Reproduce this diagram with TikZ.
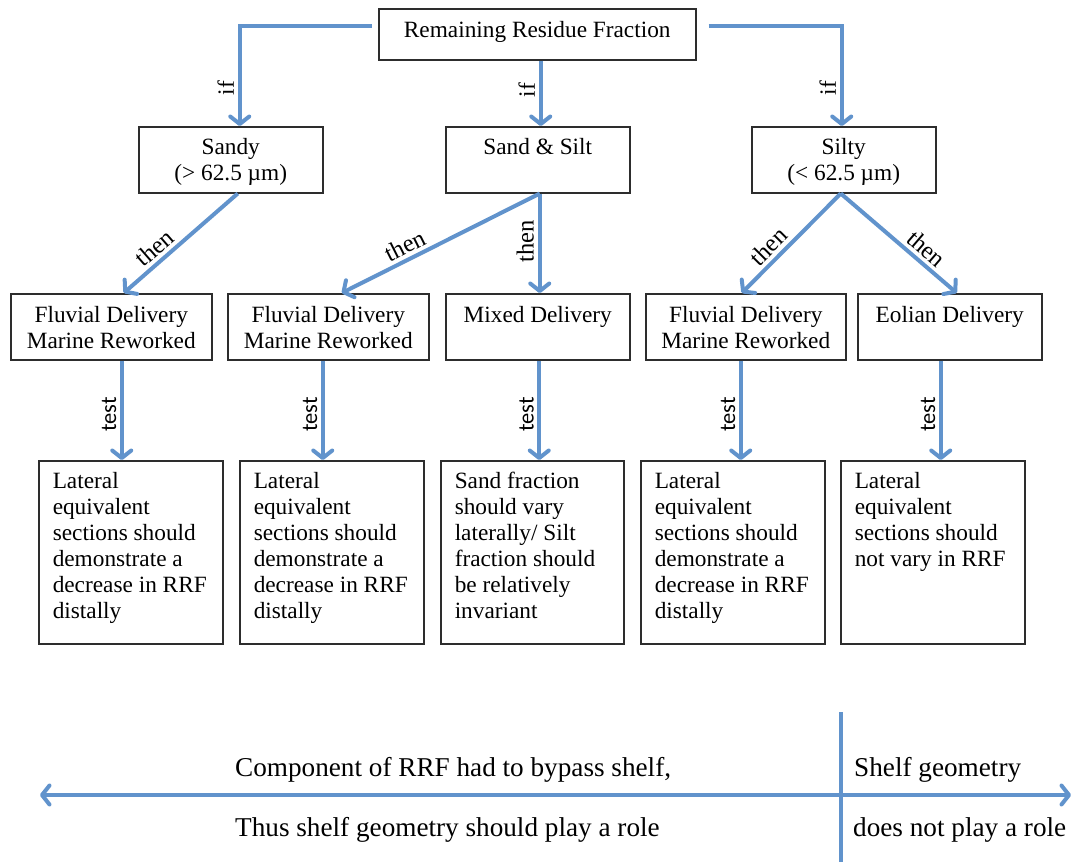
\documentclass[tikz,border=0pt]{standalone}
\usepackage{fontspec}
\setmainfont{Liberation Serif}
\newfontfamily\labelsans{Carlito}
\usetikzlibrary{arrows.meta}

\definecolor{flowblue}{RGB}{97,147,204}
\definecolor{boxline}{RGB}{45,45,45}

\newcommand\boxfont{\fontsize{23.3pt}{26pt}\selectfont}
\newcommand\thenfont{\fontsize{24.5pt}{26pt}\selectfont}
\newcommand\testfont{\labelsans\fontsize{22.5pt}{26pt}\selectfont}
\newcommand\notefont{\fontsize{27.2pt}{32pt}\selectfont}

% #1 width, #2 height, #3 first baseline below top, #4 alignment, #5 lines
\newcommand\cell[5]{\parbox[c][#2][t]{#1}{#4\vspace*{\dimexpr #3-18.2pt\relax}\strut #5}}

\begin{document}
\begin{tikzpicture}[x=1pt,y=-1pt,
  box/.style={draw=boxline, line width=1.5pt, inner sep=0pt, anchor=north west, font=\boxfont},
  flow/.style={draw=flowblue, line width=4pt, -{Straight Barb[length=7.5pt,width=19pt,round]}},
  axis/.style={draw=flowblue, line width=4pt},
  iflabel/.style={rotate=90, anchor=south, font=\boxfont, inner sep=4pt},
  vthen/.style={rotate=90, anchor=south, font=\thenfont, inner sep=4pt},
  thenlabel/.style={sloped, above, font=\thenfont, inner sep=3.5pt},
  testlabel/.style={rotate=90, anchor=south, font=\testfont, inner sep=3.5pt},
  note/.style={anchor=base west, font=\notefont, inner sep=0pt}]
\useasboundingbox (0,0) rectangle (1074,865);

% root
\node[box, minimum width=317pt, minimum height=51pt] (top) at (378,8)
  {\cell{317pt}{51pt}{29pt}{\centering}{Remaining Residue Fraction}};

% grain-size classes
\node[box, minimum width=184pt, minimum height=66pt] (sandy) at (138,126)
  {\cell{184pt}{66pt}{28pt}{\centering}{Sandy\\(> 62.5 µm)}};
\node[box, minimum width=184pt, minimum height=66pt] (sandsilt) at (445,126)
  {\cell{184pt}{66pt}{28pt}{\centering}{Sand \& Silt}};
\node[box, minimum width=184pt, minimum height=66pt] (silty) at (751,126)
  {\cell{184pt}{66pt}{28pt}{\centering}{Silty\\(< 62.5 µm)}};

% delivery mechanisms
\node[box, minimum width=201pt, minimum height=66pt] (m1) at (10,293)
  {\cell{201pt}{66pt}{29pt}{\centering}{Fluvial Delivery\\Marine Reworked}};
\node[box, minimum width=201pt, minimum height=66pt] (m2) at (227,293)
  {\cell{201pt}{66pt}{29pt}{\centering}{Fluvial Delivery\\Marine Reworked}};
\node[box, minimum width=184pt, minimum height=66pt] (m3) at (445,293)
  {\cell{184pt}{66pt}{29pt}{\centering}{Mixed Delivery}};
\node[box, minimum width=200pt, minimum height=66pt] (m4) at (645,293)
  {\cell{200pt}{66pt}{29pt}{\centering}{Fluvial Delivery\\Marine Reworked}};
\node[box, minimum width=184pt, minimum height=66pt] (m5) at (857,293)
  {\cell{184pt}{66pt}{29pt}{\centering}{Eolian Delivery}};

% predictions
\node[box, minimum width=184pt, minimum height=183pt] (b1) at (38,460)
  {\cell{156pt}{183pt}{28pt}{\raggedright}{Lateral\\equivalent\\sections should\\demonstrate a\\decrease in RRF\\distally}};
\node[box, minimum width=184pt, minimum height=183pt] (b2) at (239,460)
  {\cell{156pt}{183pt}{28pt}{\raggedright}{Lateral\\equivalent\\sections should\\demonstrate a\\decrease in RRF\\distally}};
\node[box, minimum width=183pt, minimum height=183pt] (b3) at (440,460)
  {\cell{155pt}{183pt}{28pt}{\raggedright}{Sand fraction\\should vary\\laterally/ Silt\\fraction should\\be relatively\\invariant}};
\node[box, minimum width=184pt, minimum height=183pt] (b4) at (640,460)
  {\cell{156pt}{183pt}{28pt}{\raggedright}{Lateral\\equivalent\\sections should\\demonstrate a\\decrease in RRF\\distally}};
\node[box, minimum width=184pt, minimum height=183pt] (b5) at (840,460)
  {\cell{156pt}{183pt}{28pt}{\raggedright}{Lateral\\equivalent\\sections should\\not vary in RRF}};

% root -> classes
\draw[flow] ([xshift=-6pt,yshift=8.5pt]top.west) -| node[iflabel, pos=0.81] {if} ([xshift=9pt]sandy.north);
\draw[flow] ([xshift=12pt,yshift=8.5pt]top.east) -| node[iflabel, pos=0.81] {if} ([xshift=-2pt]silty.north);
\coordinate (topS) at ([xshift=3.5pt]top.south);
\draw[flow] (topS) -- node[iflabel, pos=0.45] {if} (topS |- sandsilt.north);

% classes -> delivery
\draw[flow] ([xshift=7pt]sandy.south) -- node[thenlabel, pos=0.65] {then} ([xshift=12.5pt]m1.north);
\coordinate (ssS) at ([xshift=2pt]sandsilt.south);
\draw[flow] (ssS) -- node[thenlabel, pos=0.65] {then} ([xshift=13.5pt]m2.north);
\draw[flow] (ssS) -- node[vthen, pos=0.48] {then} (ssS |- m3.north);
\coordinate (siS) at ([xshift=-3pt]silty.south);
\draw[flow] (siS) -- node[thenlabel, pos=0.63] {then} ([xshift=-4pt]m4.north);
\draw[flow] (siS) -- node[thenlabel, pos=0.66] {then} ([xshift=7pt]m5.north);

% delivery -> predictions
\coordinate (m1S) at ([xshift=10.5pt]m1.south);
\draw[flow] (m1S) -- node[testlabel, pos=0.54] {test} (m1S |- b1.north);
\coordinate (m2S) at ([xshift=-5.5pt]m2.south);
\draw[flow] (m2S) -- node[testlabel, pos=0.54] {test} (m2S |- b2.north);
\coordinate (m3S) at ([xshift=1.5pt]m3.south);
\draw[flow] (m3S) -- node[testlabel, pos=0.54] {test} (m3S |- b3.north);
\coordinate (m4S) at ([xshift=-5pt]m4.south);
\draw[flow] (m4S) -- node[testlabel, pos=0.54] {test} (m4S |- b4.north);
\coordinate (m5S) at ([xshift=-9pt]m5.south);
\draw[flow] (m5S) -- node[testlabel, pos=0.54] {test} (m5S |- b5.north);

% shelf-geometry axis
\coordinate (axisL) at (40,795);
\coordinate (axisR) at (1071,795);
\coordinate (divT) at (841,712);
\coordinate (divB) at (841,862);
\draw[axis, {Straight Barb[length=7.5pt,width=19pt,round]}-{Straight Barb[length=7.5pt,width=19pt,round]}] (axisL) -- (axisR);
\draw[axis] (divT) -- (divB);

\node[note] (bypass) at (235,776) {Component of RRF had to bypass shelf,};
\node[note] (role) at (235,836) {Thus shelf geometry should play a role};
\node[note] (shelf) at (854,776) {Shelf geometry};
\node[note] (norole) at (853,836) {does not play a role};
\end{tikzpicture}
\end{document}
